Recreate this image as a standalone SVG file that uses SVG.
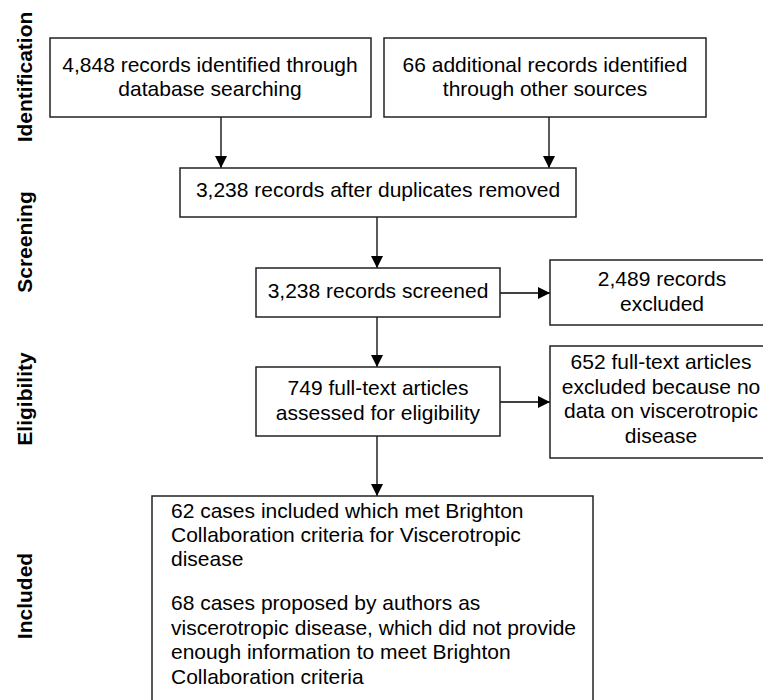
<svg xmlns="http://www.w3.org/2000/svg" width="763" height="700" viewBox="0 0 763 700">
<style>
.box{fill:#fff;stroke:#222;stroke-width:1.5}
.t{font-family:"Liberation Sans",Arial,sans-serif;font-size:21px;fill:#000}
.c{text-anchor:middle}
.lab{font-family:"Liberation Sans",Arial,sans-serif;font-size:21px;font-weight:bold;fill:#000;text-anchor:middle}
.conn{stroke:#000;stroke-width:1.3;fill:none;marker-end:url(#ah)}
</style>
<defs>
<marker id="ah" markerUnits="userSpaceOnUse" markerWidth="12" markerHeight="12" viewBox="0 0 12 12" refX="12" refY="6" orient="auto">
<path d="M0,0 L12,6 L0,12 Z" fill="#000"/>
</marker>
</defs>
<rect width="763" height="700" fill="#fff"/>
<g id="labels">
<text class="lab" transform="translate(32,77) rotate(-90)">Identification</text>
<text class="lab" transform="translate(32,242) rotate(-90)">Screening</text>
<text class="lab" transform="translate(32,399) rotate(-90)">Eligibility</text>
<text class="lab" transform="translate(32,596) rotate(-90)">Included</text>
</g>
<g id="connectors">
<line class="conn" x1="221" y1="117" x2="221" y2="168"/>
<line class="conn" x1="549" y1="117" x2="549" y2="168"/>
<line class="conn" x1="377" y1="217" x2="377" y2="268"/>
<line class="conn" x1="500" y1="293" x2="550" y2="293"/>
<line class="conn" x1="377" y1="317" x2="377" y2="367"/>
<line class="conn" x1="500" y1="402" x2="550" y2="402"/>
<line class="conn" x1="377" y1="436" x2="377" y2="496"/>
</g>
<g id="n1">
<rect class="box" x="50" y="38" width="321" height="79"/>
<text class="t c" x="210" y="72">4,848 records identified through</text>
<text class="t c" x="210" y="96">database searching</text>
</g>
<g id="n2">
<rect class="box" x="384" y="38" width="322" height="79"/>
<text class="t c" x="545" y="72">66 additional records identified</text>
<text class="t c" x="545" y="96">through other sources</text>
</g>
<g id="n3">
<rect class="box" x="180" y="168" width="396" height="49"/>
<text class="t c" x="378" y="197">3,238 records after duplicates removed</text>
</g>
<g id="n4">
<rect class="box" x="256" y="268" width="244" height="49"/>
<text class="t c" x="378" y="298">3,238 records screened</text>
</g>
<g id="n5">
<rect class="box" x="550" y="260" width="225" height="65"/>
<text class="t c" x="662" y="286">2,489 records</text>
<text class="t c" x="662" y="311">excluded</text>
</g>
<g id="n6">
<rect class="box" x="256" y="367" width="244" height="69"/>
<text class="t c" x="378" y="395">749 full-text articles</text>
<text class="t c" x="378" y="420">assessed for eligibility</text>
</g>
<g id="n7">
<rect class="box" x="550" y="346" width="225" height="112"/>
<text class="t c" x="661" y="369">652 full-text articles</text>
<text class="t c" x="661" y="394">excluded because no</text>
<text class="t c" x="661" y="418">data on viscerotropic</text>
<text class="t c" x="661" y="443">disease</text>
</g>
<g id="n8">
<rect class="box" x="152" y="496" width="441" height="230"/>
<text class="t" x="171" y="518">62 cases included which met Brighton</text>
<text class="t" x="171" y="542">Collaboration criteria for Viscerotropic</text>
<text class="t" x="171" y="566">disease</text>
<text class="t" x="171" y="610">68 cases proposed by authors as</text>
<text class="t" x="171" y="635">viscerotropic disease, which did not provide</text>
<text class="t" x="171" y="659">enough information to meet Brighton</text>
<text class="t" x="171" y="684">Collaboration criteria</text>
</g>
</svg>
